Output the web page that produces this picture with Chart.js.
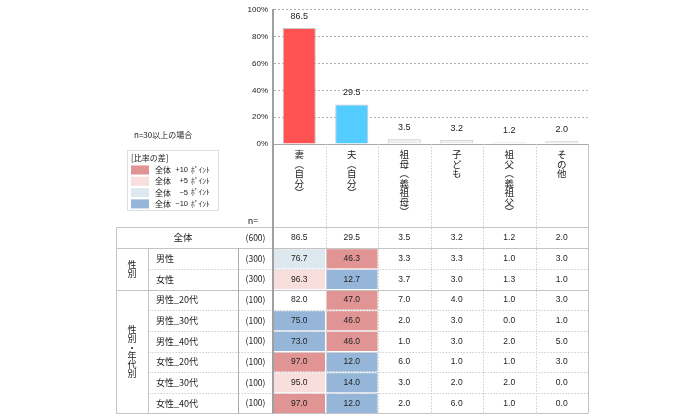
<!DOCTYPE html>
<html>
<head>
<meta charset="utf-8">
<script src="https://cdn.jsdelivr.net/npm/chart.js@4/dist/chart.umd.min.js"></script>
<style>
html,body{margin:0;padding:0;background:#fff;}
#wrap{width:700px;height:420px;position:relative;}
</style>
</head>
<body>
<div id="wrap"><canvas id="c" width="700" height="420"></canvas></div>
<script>
// ---- data ----
const categories = ['妻（自分）','夫（自分）','祖母（義祖母）','子ども','祖父（義祖父）','その他'];
const totalLabel = '全体';
const totalN = 600;
const totalValues = [86.5, 29.5, 3.5, 3.2, 1.2, 2.0];
const groupLabels = ['性別', '性別・年代別'];
const groupSizes = [2, 6];
const rowLabels = ['男性','女性','男性_20代','男性_30代','男性_40代','女性_20代','女性_30代','女性_40代'];
const rowN = [300, 300, 100, 100, 100, 100, 100, 100];
const rowValues = [
  [76.7, 46.3, 3.3, 3.3, 1.0, 3.0],
  [96.3, 12.7, 3.7, 3.0, 1.3, 1.0],
  [82.0, 47.0, 7.0, 4.0, 1.0, 3.0],
  [75.0, 46.0, 2.0, 3.0, 0.0, 1.0],
  [73.0, 46.0, 1.0, 3.0, 2.0, 5.0],
  [97.0, 12.0, 6.0, 1.0, 1.0, 3.0],
  [95.0, 14.0, 3.0, 2.0, 2.0, 0.0],
  [97.0, 12.0, 2.0, 6.0, 1.0, 0.0]
];
const legendNote = 'n=30以上の場合';
const legendTitle = '[比率の差]';
const legendDiffs = ['+10', '+5', '−5', '−10'];
const legendThresholds = [10, 5, -5, -10];

// ---- styles ----
const barColors = ['#FF5252', '#55CCFF', '#EEEEEE', '#EEEEEE', '#EEEEEE', '#EEEEEE'];
const diffColors = ['#E09494', '#F9DEDE', '#DEE8EF', '#96B6D9'];
const JP = '"Noto Sans CJK JP", sans-serif';
const NUM = '"Liberation Sans", "Noto Sans CJK JP", sans-serif';

function verticalize(s) {
  return Array.from(s).map(ch => ch === '（' ? '︵' : ch === '）' ? '︶' : ch);
}

function diffColor(v, base) {
  const d = v - base;
  if (d >= legendThresholds[0]) return diffColors[0];
  if (d >= legendThresholds[1]) return diffColors[1];
  if (d <= legendThresholds[3]) return diffColors[3];
  if (d <= legendThresholds[2]) return diffColors[2];
  return null;
}

function drawVerticalText(ctx, text, x, yc, step) {
  const chars = Array.from(text);
  const y0 = yc - (chars.length - 1) * step / 2;
  chars.forEach((ch, i) => ctx.fillText(ch, x, y0 + i * step));
}

const extras = {
  id: 'extras',
  afterDatasetsDraw(chart) {
    const ctx = chart.ctx;
    const meta = chart.getDatasetMeta(0);
    ctx.save();
    ctx.fillStyle = '#222';
    ctx.font = '9px ' + NUM;
    ctx.textAlign = 'center';
    ctx.textBaseline = 'bottom';
    meta.data.forEach((el, i) => {
      ctx.fillText(totalValues[i].toFixed(1), el.x, el.y - 7);
    });
    ctx.restore();
  },
  afterDraw(chart) {
    const ctx = chart.ctx;
    const xs = chart.scales.x;
    const area = chart.chartArea;
    const nCol = categories.length;
    const colW = (xs.right - xs.left) / nCol;
    const colL = i => xs.left + i * colW;
    const tableTop = 227.5;
    const tableBottom = 413.5;
    const nRows = 1 + rowLabels.length;
    const rowH = (tableBottom - tableTop) / nRows;
    const rowY = r => tableTop + r * rowH;
    const xLeft = 116.5, xLabel = 148.5, xN = 238.5;

    ctx.save();
    // cell fills
    rowValues.forEach((vals, r) => {
      vals.forEach((v, c) => {
        const col = diffColor(v, totalValues[c]);
        if (col) {
          ctx.fillStyle = col;
          ctx.fillRect(colL(c) + 1, rowY(r + 1) + 1, colW - 1.5, rowH - 1.5);
        }
      });
    });

    // dotted column dividers below the axis
    ctx.strokeStyle = '#cfcfcf';
    ctx.lineWidth = 1;
    ctx.setLineDash([1.5, 1.5]);
    for (let i = 1; i < nCol; i++) {
      const x = Math.round(colL(i)) + 0.5;
      ctx.beginPath(); ctx.moveTo(x, area.bottom); ctx.lineTo(x, tableBottom); ctx.stroke();
    }
    // dotted row lines inside groups
    let r = 1;
    groupSizes.forEach(g => {
      for (let k = 1; k < g; k++) {
        const y = Math.round(rowY(r + k)) + 0.5;
        ctx.beginPath(); ctx.moveTo(xLabel, y); ctx.lineTo(xs.right, y); ctx.stroke();
      }
      r += g;
    });
    ctx.setLineDash([]);

    // solid lines
    ctx.strokeStyle = '#c4c4c4';
    ctx.beginPath();
    ctx.moveTo(Math.round(xs.right) + 0.5, area.bottom); ctx.lineTo(Math.round(xs.right) + 0.5, tableBottom);
    ctx.moveTo(xLeft, tableTop); ctx.lineTo(xs.right, tableTop);
    ctx.moveTo(xLeft, tableBottom); ctx.lineTo(xs.right, tableBottom);
    ctx.moveTo(xLeft, tableTop); ctx.lineTo(xLeft, tableBottom);
    r = 1;
    groupSizes.forEach((g, gi) => {
      const y = Math.round(rowY(r)) + 0.5;
      ctx.moveTo(xLeft, y); ctx.lineTo(xs.right, y);
      r += g;
    });
    ctx.moveTo(xLabel, rowY(1)); ctx.lineTo(xLabel, tableBottom);
    ctx.stroke();
    ctx.strokeStyle = '#aaaaaa';
    ctx.beginPath();
    ctx.moveTo(xN, rowY(1)); ctx.lineTo(xN, tableBottom);
    ctx.stroke();
    // axis line extension
    ctx.strokeStyle = '#a0a0a0';
    ctx.lineWidth = 2;
    ctx.beginPath();
    ctx.moveTo(xs.left, area.bottom); ctx.lineTo(xs.left, tableBottom);
    ctx.stroke();

    // texts
    ctx.fillStyle = '#222';
    ctx.textBaseline = 'middle';
    ctx.textAlign = 'center';
    ctx.font = '9px ' + JP;
    ctx.fillText('n=', 253, 221);
    ctx.font = '9.5px ' + JP;
    ctx.fillText(totalLabel, 183, rowY(0.5));
    ctx.font = '8.5px ' + JP;
    ctx.fillText('(' + totalN + ')', 255.5, rowY(0.5));
    ctx.font = '8.5px ' + NUM;
    totalValues.forEach((v, c) => ctx.fillText(v.toFixed(1), colL(c) + colW / 2, rowY(0.5)));
    rowLabels.forEach((lab, i) => {
      const yc = rowY(i + 1.5);
      ctx.textAlign = 'left';
      ctx.font = '9px ' + JP;
      ctx.fillText(lab, 156, yc);
      ctx.textAlign = 'center';
      ctx.font = '8.5px ' + JP;
      ctx.fillText('(' + rowN[i] + ')', 255.5, yc);
      ctx.font = '8.5px ' + NUM;
      rowValues[i].forEach((v, c) => ctx.fillText(v.toFixed(1), colL(c) + colW / 2, yc));
    });
    ctx.font = '9px ' + JP;
    r = 1;
    groupLabels.forEach((g, gi) => {
      const yc = (rowY(r) + rowY(r + groupSizes[gi])) / 2;
      drawVerticalText(ctx, g, 132, yc, 8.7);
      r += groupSizes[gi];
    });

    // legend
    ctx.textAlign = 'left';
    ctx.font = '8px ' + JP;
    ctx.fillText(legendNote, 134, 135);
    ctx.strokeStyle = '#bdbdbd';
    ctx.lineWidth = 1;
    ctx.setLineDash([1, 1]);
    ctx.strokeRect(127.5, 150.5, 91, 60);
    ctx.setLineDash([]);
    ctx.fillText(legendTitle, 131, 158);
    legendDiffs.forEach((d, i) => {
      const yc = 170 + i * 11.3;
      ctx.fillStyle = diffColors[i];
      ctx.fillRect(131, yc - 4.5, 18, 9);
      ctx.fillStyle = '#222';
      ctx.textAlign = 'left';
      ctx.font = '8px ' + JP;
      ctx.fillText(totalLabel, 155, yc);
      ctx.textAlign = 'right';
      ctx.font = '7.5px ' + NUM;
      ctx.fillText(d, 188, yc);
      ctx.textAlign = 'left';
      ctx.font = '7.5px ' + JP;
      ctx.fillText('ﾎﾟｲﾝﾄ', 191, yc);
    });
    ctx.restore();
  }
};

new Chart(document.getElementById('c'), {
  type: 'bar',
  data: {
    labels: categories.map(verticalize),
    datasets: [{
      data: totalValues,
      backgroundColor: barColors,
      borderColor: '#c8c8c8',
      borderWidth: 1,
      barPercentage: 0.63,
      categoryPercentage: 1.0
    }]
  },
  options: {
    responsive: false,
    animation: false,
    devicePixelRatio: 1,
    layout: { padding: { left: 233, right: 112, top: 8, bottom: 0 } },
    plugins: { legend: { display: false }, tooltip: { enabled: false } },
    scales: {
      x: {
        grid: { display: false, drawTicks: false },
        border: { display: true, color: '#a8a8a8', width: 1 },
        ticks: {
          autoSkip: false, maxRotation: 0, minRotation: 0, padding: 6,
          color: '#222',
          font: { family: '"Noto Sans CJK JP", sans-serif', size: 9.5, lineHeight: 1.0 }
        },
        afterFit(s) { s.height = 276; }
      },
      y: {
        min: 0, max: 100,
        grid: { color: '#b0b0b0', drawTicks: false },
        border: { display: true, color: '#a0a0a0', width: 2, dash: [2, 2] },
        ticks: {
          stepSize: 20, padding: 5, color: '#222',
          font: { family: '"Liberation Sans", sans-serif', size: 8 },
          callback: v => v + '%'
        },
        afterFit(s) { s.width = 40; }
      }
    }
  },
  plugins: [extras]
});
</script>
</body>
</html>
